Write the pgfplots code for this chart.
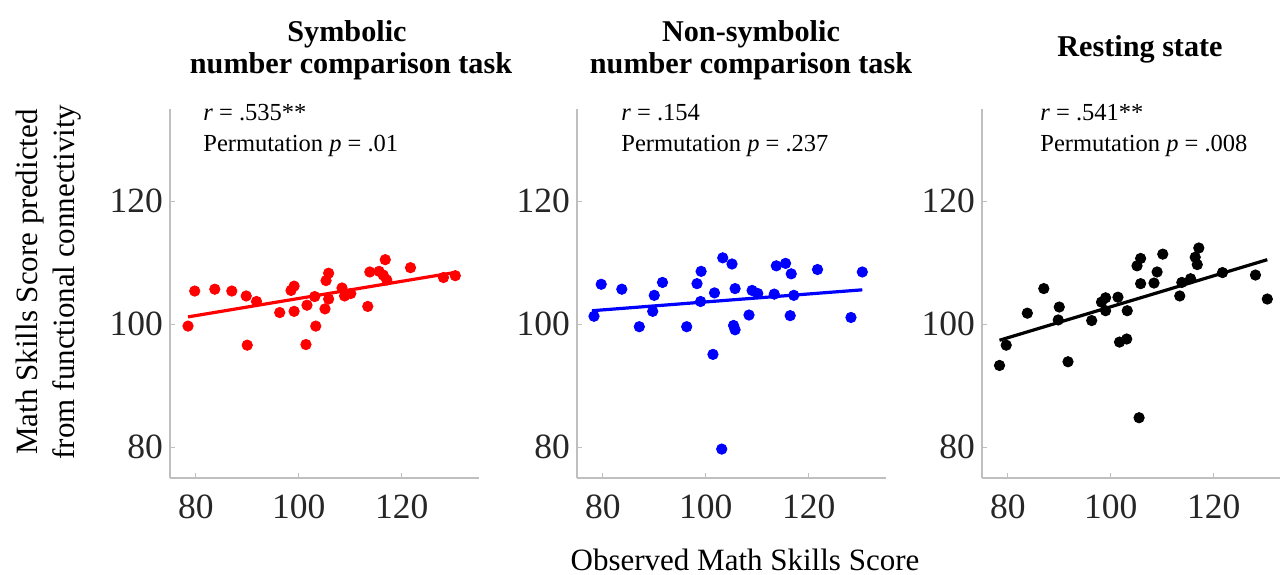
\documentclass[border=0pt]{standalone}
\usepackage{fontspec}
\setmainfont{Liberation Serif}
\usepackage{pgfplots}
\pgfplotsset{compat=1.18}
\pgfplotsset{panel/.style={
  scale only axis, width=154.5pt, height=184.5pt, anchor=south west,
  xmin=75, xmax=135, ymin=75, ymax=135,
  axis lines*=left,
  axis line style={draw=gray!50, line width=0.6pt},
  xtick={80,100,120}, ytick={80,100,120},
  tick align=inside, major tick length=2.5pt,
  tick style={draw=gray!50, line width=0.6pt},
  tick label style={font=\fontsize{17.75}{20}\selectfont, text=black!85},
  xticklabel style={yshift=-5pt},
  /pgf/number format/assume math mode=true,
}}
\newcommand{\titlef}{\fontsize{15.1}{18}\selectfont\bfseries}
\newcommand{\annf}{\fontsize{12.25}{15}\selectfont}
\newcommand{\labf}{\fontsize{15.5}{18}\selectfont}
\begin{document}
\begin{tikzpicture}
\useasboundingbox (0,0) rectangle (640pt,287pt);
% Panel 1
\begin{axis}[panel, at={(85pt,48pt)}]
\addplot[only marks, mark=*, mark size=2.6pt, color=red] table {
x y
78.5 99.7
79.8 105.4
83.7 105.7
87.0 105.4
89.8 104.6
90.0 96.6
91.8 103.7
96.3 101.9
99.1 102.1
98.5 105.5
99.1 106.2
101.6 103.1
101.4 96.7
103.1 104.5
103.3 99.7
105.1 102.5
105.8 104.1
105.3 107.1
105.8 108.3
108.4 105.9
108.9 104.6
110.1 105.0
113.4 102.9
113.8 108.5
115.6 108.6
116.4 108.0
116.8 110.5
117.1 107.2
121.7 109.2
128.1 107.6
130.4 107.9
};
\addplot[red, line width=1.6pt] coordinates {(78.5,101.2) (130.2,108.4)};
\end{axis}
% Panel 2
\begin{axis}[panel, at={(288.5pt,48pt)}]
\addplot[only marks, mark=*, mark size=2.6pt, color=blue] table {
x y
78.3 101.3
79.7 106.5
83.7 105.7
87.1 99.6
90.0 104.7
89.7 102.1
91.6 106.8
96.3 99.6
98.3 106.6
99.1 108.6
99.0 103.7
101.4 95.1
101.7 105.1
103.3 110.8
103.1 79.7
105.1 109.8
105.7 105.8
105.4 99.8
105.7 99.1
108.4 101.5
109.0 105.5
110.1 105.0
113.3 104.9
113.7 109.5
115.5 109.9
116.6 108.2
117.1 104.7
116.4 101.4
121.7 108.9
128.2 101.1
130.4 108.5
};
\addplot[blue, line width=1.6pt] coordinates {(77.9,102.2) (130.4,105.6)};
\end{axis}
% Panel 3
\begin{axis}[panel, at={(491pt,48pt)}]
\addplot[only marks, mark=*, mark size=2.6pt, color=black] table {
x y
78.4 93.3
79.7 96.6
83.8 101.8
87.0 105.8
90.0 102.8
89.8 100.7
91.7 93.9
96.3 100.6
98.2 103.6
99.0 104.3
99.0 102.2
101.4 104.4
101.7 97.1
103.1 97.6
103.2 102.2
105.1 109.5
105.8 110.7
105.8 106.6
105.5 84.8
108.4 106.7
109.0 108.5
110.1 111.4
113.4 104.6
113.8 106.8
115.5 107.4
116.4 110.9
116.8 109.7
117.1 112.4
121.7 108.4
128.1 108.0
130.4 104.1
};
\addplot[black, line width=1.6pt] coordinates {(78.4,97.4) (130.4,110.5)};
\end{axis}
% Titles
\node[anchor=base, inner sep=0, font=\titlef] at (173.5pt,266pt) {Symbolic};
\node[anchor=base, inner sep=0, font=\titlef] at (175.5pt,250pt) {number comparison task};
\node[anchor=base, inner sep=0, font=\titlef] at (375.5pt,266pt) {Non-symbolic};
\node[anchor=base, inner sep=0, font=\titlef] at (375.5pt,250pt) {number comparison task};
\node[anchor=base, inner sep=0, font=\titlef] at (570pt,258.5pt) {Resting state};
% Annotations
\node[anchor=base west, inner sep=0, font=\annf] at (101.5pt,226.5pt) {\textit{r} = .535**};
\node[anchor=base west, inner sep=0, font=\annf] at (101.5pt,211pt) {Permutation \textit{p} = .01};
\node[anchor=base west, inner sep=0, font=\annf] at (310.5pt,226.5pt) {\textit{r} = .154};
\node[anchor=base west, inner sep=0, font=\annf] at (310.5pt,211pt) {Permutation \textit{p} = .237};
\node[anchor=base west, inner sep=0, font=\annf] at (520pt,226.5pt) {\textit{r} = .541**};
\node[anchor=base west, inner sep=0, font=\annf] at (520pt,211pt) {Permutation \textit{p} = .008};
% Axis labels
\node[rotate=90, anchor=base, inner sep=0, font=\labf] at (19pt,146pt) {Math Skills Score predicted};
\node[rotate=90, anchor=base, inner sep=0, font=\labf] at (37pt,146pt) {from functional connectivity};
\node[anchor=base, inner sep=0, font=\labf] at (372.5pt,2pt) {Observed Math Skills Score};
\end{tikzpicture}
\end{document}
